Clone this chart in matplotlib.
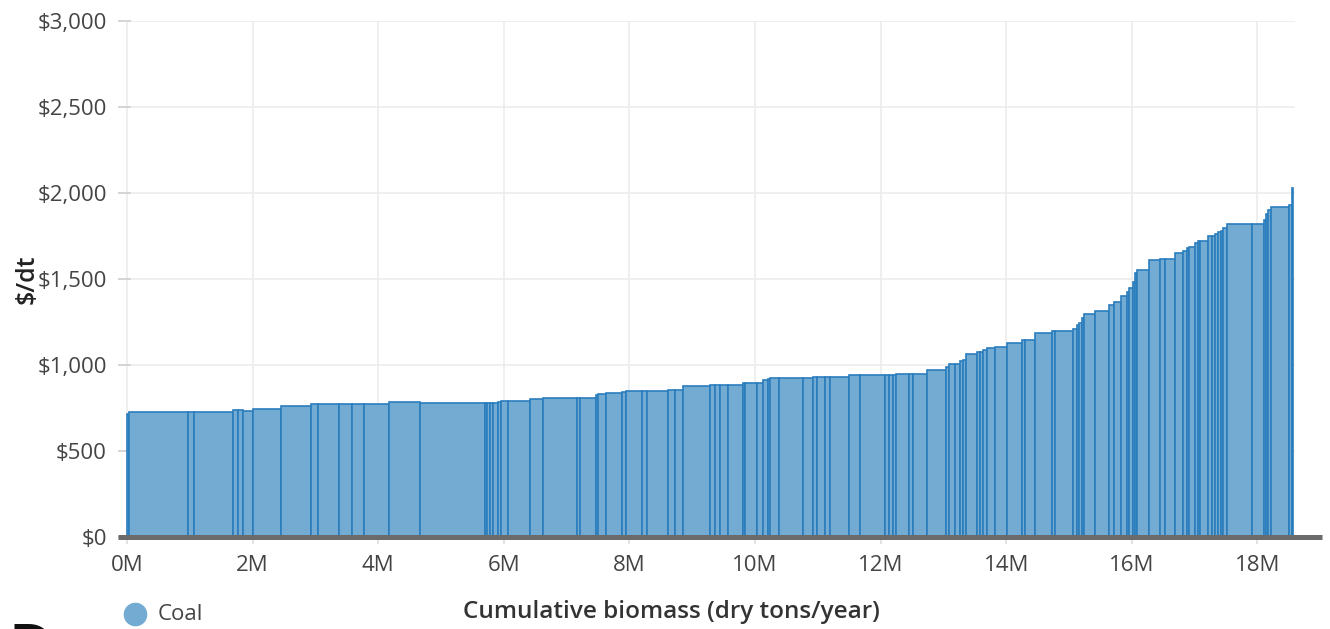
import numpy as np
import matplotlib
matplotlib.use("Agg")
import matplotlib.pyplot as plt
from matplotlib.ticker import FuncFormatter, MultipleLocator

plt.rcParams["font.family"] = ["Open Sans", "DejaVu Sans"]

# cumulative biomass at each step edge (million dry tons/year)
cum_biomass_m = [
    0.00, 0.03, 0.97, 1.07, 1.69, 1.77, 1.85, 2.01, 2.45, 2.93, 3.04, 3.38,
    3.58, 3.77, 4.17, 4.67, 5.70, 5.73, 5.78, 5.83, 5.91, 5.96, 6.07, 6.42,
    6.62, 7.17, 7.21, 7.47, 7.50, 7.63, 7.88, 7.95, 8.20, 8.28, 8.61, 8.73,
    8.85, 9.28, 9.36, 9.44, 9.57, 9.81, 9.84, 10.03, 10.13, 10.21, 10.24,
    10.38, 10.76, 10.92, 10.99, 11.11, 11.19, 11.50, 11.67, 12.07, 12.13,
    12.20, 12.25, 12.45, 12.52, 12.74, 13.04, 13.09, 13.18, 13.26, 13.31,
    13.36, 13.54, 13.58, 13.63, 13.69, 13.82, 14.01, 14.25, 14.30, 14.46,
    14.73, 14.78, 15.06, 15.13, 15.16, 15.21, 15.24, 15.41, 15.64, 15.72,
    15.83, 15.92, 15.96, 16.02, 16.05, 16.08, 16.27, 16.45, 16.53, 16.69,
    16.82, 16.88, 16.91, 17.01, 17.05, 17.09, 17.21, 17.28, 17.32, 17.37,
    17.42, 17.45, 17.52, 17.91, 18.10, 18.14, 18.17, 18.22, 18.50, 18.55,
    18.57,
]

# price of each step ($/dry ton)
price = [
    715, 725, 725, 725, 737, 737, 735, 744, 762, 771, 773, 773,
    773, 773, 782, 781, 781, 781, 781, 781, 783, 792, 793, 802,
    810, 810, 811, 827, 831, 839, 845, 847, 847, 847, 855, 855,
    876, 885, 885, 885, 886, 893, 893, 895, 913, 918, 922, 922,
    923, 930, 930, 930, 931, 940, 940, 940, 940, 941, 948, 950,
    950, 969, 990, 1006, 1008, 1025, 1027, 1062, 1075, 1078, 1087, 1097,
    1106, 1126, 1143, 1145, 1184, 1198, 1199, 1207, 1230, 1244, 1271, 1295,
    1314, 1349, 1368, 1401, 1426, 1446, 1484, 1533, 1552, 1610, 1614, 1616,
    1649, 1665, 1682, 1686, 1711, 1720, 1723, 1750, 1752, 1760, 1771, 1781,
    1799, 1818, 1818, 1843, 1878, 1901, 1917, 1928, 2027,
]

series_name = "Coal"
fill_color = "#74abd3"
edge_color = "#2a7dbd"

edges = np.array(cum_biomass_m)
lefts = edges[:-1]
widths = np.diff(edges)

fig = plt.figure(figsize=(13.3, 6.29), dpi=100)
ax = fig.add_axes([118 / 1330, 1 - 537 / 629, (1295 - 118) / 1330, (537 - 21) / 629])

ax.bar(lefts, price, width=widths, align="edge", color=fill_color,
       edgecolor=edge_color, linewidth=1.2, zorder=2)

ax.set_xlim(-9 / 62.8, 1168 / 62.8)
ax.set_ylim(0, 3000)

ax.xaxis.set_major_locator(MultipleLocator(2))
ax.yaxis.set_major_locator(MultipleLocator(500))
ax.xaxis.set_major_formatter(FuncFormatter(lambda v, p: f"{v:.0f}M"))
ax.yaxis.set_major_formatter(FuncFormatter(lambda v, p: f"${v:,.0f}"))

ax.grid(True, color="#ececec", linewidth=1.2, zorder=0)
ax.set_axisbelow(True)
for s in ax.spines.values():
    s.set_visible(False)

ax.tick_params(axis="y", direction="in", length=9, width=1.2, color="#d0d0d0",
               pad=8, labelsize=16, labelcolor="#444444")
ax.tick_params(axis="x", direction="out", length=5, width=1.2, color="#dddddd",
               pad=8, labelsize=16, labelcolor="#444444")

# thick baseline running a bit past the plot
ax.plot([0, (1322 - 118) / (1295 - 118)], [0, 0], transform=ax.get_yaxis_transform(),
        color="#6b6b6b", linewidth=3.6, clip_on=False, zorder=5,
        solid_capstyle="butt")

ax.set_ylabel("$/dt", fontsize=18, fontweight="semibold", color="#222222")
ax.yaxis.set_label_coords((40 - 118) / 1177, 0.5)
fig.text(671 / 1330, 1 - 612 / 629, "Cumulative biomass (dry tons/year)",
         fontsize=17.5, fontweight="semibold", color="#333333", ha="center", va="center")

# legend
fig.text(158 / 1330, 1 - 614 / 629, series_name, fontsize=16, color="#444444",
         va="center", ha="left")
fig.add_artist(plt.Line2D([135 / 1330], [1 - 614 / 629], marker="o", markersize=16,
                          color=fill_color, linestyle="none", transform=fig.transFigure))

# start of the next heading, cut off by the image edge
fig.text(9 / 1330, 1 - 622 / 629, "D", fontsize=44, fontweight="bold",
         color="#111111", va="top", ha="left")

fig.savefig("out.png", dpi=100)
